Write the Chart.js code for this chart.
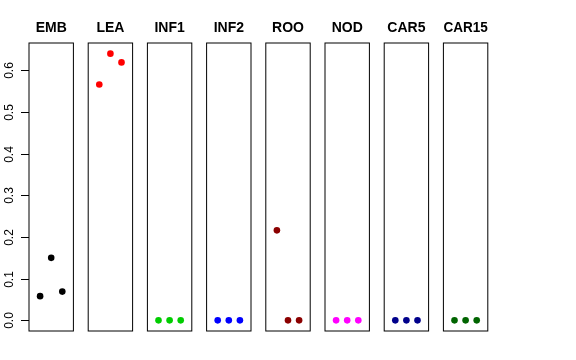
<!DOCTYPE html>
<html>
<head>
<meta charset="utf-8">
<script src="https://cdn.jsdelivr.net/npm/chart.js@4"></script>
<style>
  html,body{margin:0;padding:0;background:#fff;}
  #wrap{position:relative;width:576px;height:360px;overflow:hidden;}
  #wrap canvas{position:absolute;top:0;}
</style>
</head>
<body>
<div id="wrap"></div>
<script>
// panel names + point colours (R style palette)
const panels = ['EMB','LEA','INF1','INF2','ROO','NOD','CAR5','CAR15'];
const colors = ['#000000','#ff0000','#00cd00','#0000ff','#8b0000','#ff00ff','#00008b','#006400'];

// three replicates per tissue, plotted at x = 1,2,3
const xPos  = [1, 2, 3];
const EMB   = [0.058, 0.150, 0.069];
const LEA   = [0.566, 0.640, 0.619];
const INF1  = [0, 0, 0];
const INF2  = [0, 0, 0];
const ROO   = [0.216, 0, 0];
const NOD   = [0, 0, 0];
const CAR5  = [0, 0, 0];
const CAR15 = [0, 0, 0];
const series = [EMB, LEA, INF1, INF2, ROO, NOD, CAR5, CAR15];

const yTicks = [0, 0.1, 0.2, 0.3, 0.4, 0.5, 0.6];
const yMin = -0.0256, yMax = 0.6656;

const FONT = "'Liberation Sans', Arial, Helvetica, sans-serif";

// layout of the boxes (pixels)
const BOX_L0 = 29, PITCH = 59.2, BOX_W = 44.4, BOX_TOP = 43, BOX_BOT = 331, H = 360;

// box around the plot region + y axis (first panel only)
const frame = {
  id:'frame',
  afterDatasetsDraw(chart, args, opts){
    const {ctx, chartArea:a} = chart;
    ctx.save();
    ctx.strokeStyle = '#000'; ctx.lineWidth = 1;
    ctx.strokeRect(a.left, a.top, a.right - a.left, a.bottom - a.top);
    if(opts.axis){
      const y = chart.scales.y;
      ctx.font = '12px ' + FONT;
      ctx.fillStyle = '#000';
      ctx.textAlign = 'center';
      ctx.textBaseline = 'alphabetic';
      yTicks.forEach(t=>{
        const py = Math.round(y.getPixelForValue(t)) + 0.5;
        ctx.beginPath(); ctx.moveTo(a.left - 8, py); ctx.lineTo(a.left, py); ctx.stroke();
        ctx.save();
        ctx.translate(13, py);
        ctx.rotate(-Math.PI/2);
        ctx.fillText(t.toFixed(1), 0, 0);
        ctx.restore();
      });
    }
    ctx.restore();
  }
};

const wrap = document.getElementById('wrap');
panels.forEach((name, i)=>{
  const boxL = BOX_L0 + PITCH*i, boxR = boxL + BOX_W;
  const canL = i === 0 ? 0 : Math.floor(boxL) - 8;
  const canW = Math.ceil(boxR) + 8 - canL;
  const cv = document.createElement('canvas');
  cv.width = canW; cv.height = H;
  cv.style.left = canL + 'px';
  cv.style.width = canW + 'px'; cv.style.height = H + 'px';
  wrap.appendChild(cv);

  new Chart(cv, {
    type:'scatter',
    data:{datasets:[{
      data: xPos.map((x,k)=>({x, y: series[i][k]})),
      backgroundColor: colors[i], borderColor: colors[i],
      pointRadius: 3.3, pointHoverRadius: 3.3, borderWidth: 0
    }]},
    options:{
      responsive:false, maintainAspectRatio:false, animation:false,
      events:[],
      layout:{padding:{left: boxL - canL, right: canL + canW - boxR, top: 0, bottom: H - BOX_BOT}},
      scales:{
        x:{type:'linear', min:0, max:4, display:false},
        y:{type:'linear', min:yMin, max:yMax, display:false}
      },
      plugins:{
        legend:{display:false}, tooltip:{enabled:false},
        title:{display:true, text:name, color:'#000',
               font:{family:FONT, size:14, weight:'bold', lineHeight:1.2},
               padding:{top:19.6, bottom:BOX_TOP - 19.6 - 16.8}},
        frame:{axis: i === 0}
      }
    },
    plugins:[frame]
  });
});
</script>
</body>
</html>
